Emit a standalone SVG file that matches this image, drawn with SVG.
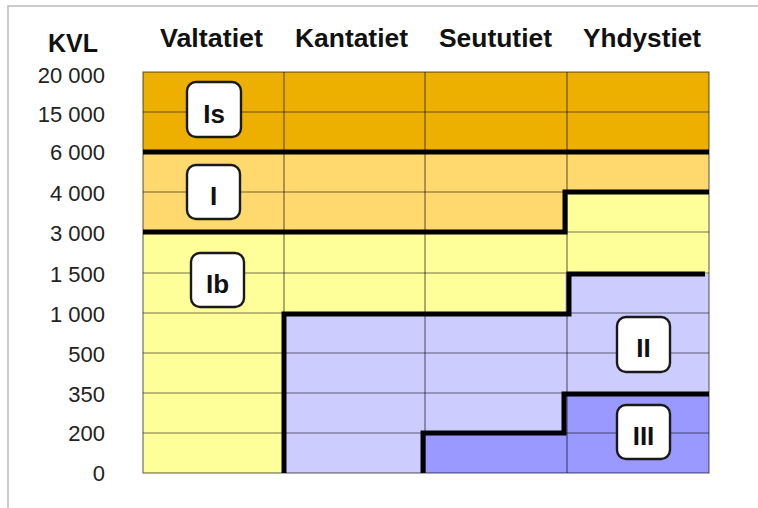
<svg xmlns="http://www.w3.org/2000/svg" width="758" height="508" viewBox="0 0 758 508">
<style>
.hdr{font-family:"Liberation Sans",Arial,sans-serif;font-weight:bold;font-size:25px;fill:#111}
.num{font-family:"Liberation Sans",Arial,sans-serif;font-size:22px;fill:#222;text-anchor:end}
.grid{stroke:#000;stroke-opacity:0.55;stroke-width:1.2;fill:none}
.thick{stroke:#000;stroke-width:5;fill:none;stroke-linecap:butt;stroke-linejoin:miter}
.box rect{fill:#fff;stroke:#1a1a1a;stroke-width:2.4}
.box text{font-family:"Liberation Sans",Arial,sans-serif;font-weight:bold;font-size:26px;fill:#111;text-anchor:middle}
</style>
<rect width="758" height="508" fill="#fff"/>
<path d="M8 508 V6 H758" fill="none" stroke="#bbb" stroke-width="1.5"/>

<g id="headers">
<text class="hdr" x="48" y="52" textLength="50" lengthAdjust="spacingAndGlyphs" font-size="26">KVL</text>
<text class="hdr" x="160" y="47" textLength="103" lengthAdjust="spacingAndGlyphs">Valtatiet</text>
<text class="hdr" x="295" y="47" textLength="113" lengthAdjust="spacingAndGlyphs">Kantatiet</text>
<text class="hdr" x="439" y="47" textLength="113" lengthAdjust="spacingAndGlyphs">Seututiet</text>
<text class="hdr" x="583" y="47" textLength="118" lengthAdjust="spacingAndGlyphs">Yhdystiet</text>
</g>

<g id="axis">
<text class="num" x="105" y="83">20 000</text>
<text class="num" x="105" y="122">15 000</text>
<text class="num" x="105" y="160">6 000</text>
<text class="num" x="105" y="201">4 000</text>
<text class="num" x="105" y="241">3 000</text>
<text class="num" x="105" y="282">1 500</text>
<text class="num" x="105" y="322">1 000</text>
<text class="num" x="105" y="362">500</text>
<text class="num" x="105" y="402">350</text>
<text class="num" x="105" y="441">200</text>
<text class="num" x="105" y="481">0</text>
</g>

<g id="fills">
<rect x="143" y="72" width="566" height="80" fill="#EEB000"/>
<rect x="143" y="152" width="422" height="80" fill="#FFD86E"/>
<rect x="565" y="152" width="144" height="40" fill="#FFD86E"/>
<rect x="143" y="232" width="141" height="241" fill="#FFFF99"/>
<rect x="284" y="232" width="285" height="82" fill="#FFFF99"/>
<rect x="565" y="192" width="144" height="82" fill="#FFFF99"/>
<rect x="284" y="314" width="285" height="159" fill="#CCCCFF"/>
<rect x="565" y="274" width="144" height="120" fill="#CCCCFF"/>
<rect x="423" y="433" width="144" height="40" fill="#9999FF"/>
<rect x="564" y="394" width="145" height="79" fill="#9999FF"/>
</g>

<g id="grid" class="grid">
<rect x="143" y="72" width="566" height="401"/>
<path d="M284 72 V473 M425 72 V473 M567 72 V473"/>
<path d="M143 112 H709 M143 192 H709 M143 232 H709 M143 273 H709 M143 313 H709 M143 353 H709 M143 393 H709 M143 433 H709"/>
</g>

<g id="connectors" class="thick">
<path d="M143 152 H709"/>
<path d="M143 232 H565 V192 H709"/>
<path d="M284 473 V314 H569 V274 H705"/>
<path d="M423 473 V433 H564 V394 H709"/>
</g>

<g id="node-Is" class="box"><rect x="187" y="82" width="54" height="55" rx="9"/><text x="214" y="123">Is</text></g>
<g id="node-I" class="box"><rect x="187" y="165" width="53" height="54" rx="9"/><text x="213.5" y="205">I</text></g>
<g id="node-Ib" class="box"><rect x="191" y="253" width="53" height="54" rx="9"/><text x="217.5" y="293">Ib</text></g>
<g id="node-II" class="box"><rect x="617" y="317" width="53" height="55" rx="9"/><text x="643.5" y="357">II</text></g>
<g id="node-III" class="box"><rect x="617" y="405" width="53" height="54" rx="9"/><text x="643.5" y="445">III</text></g>
</svg>
